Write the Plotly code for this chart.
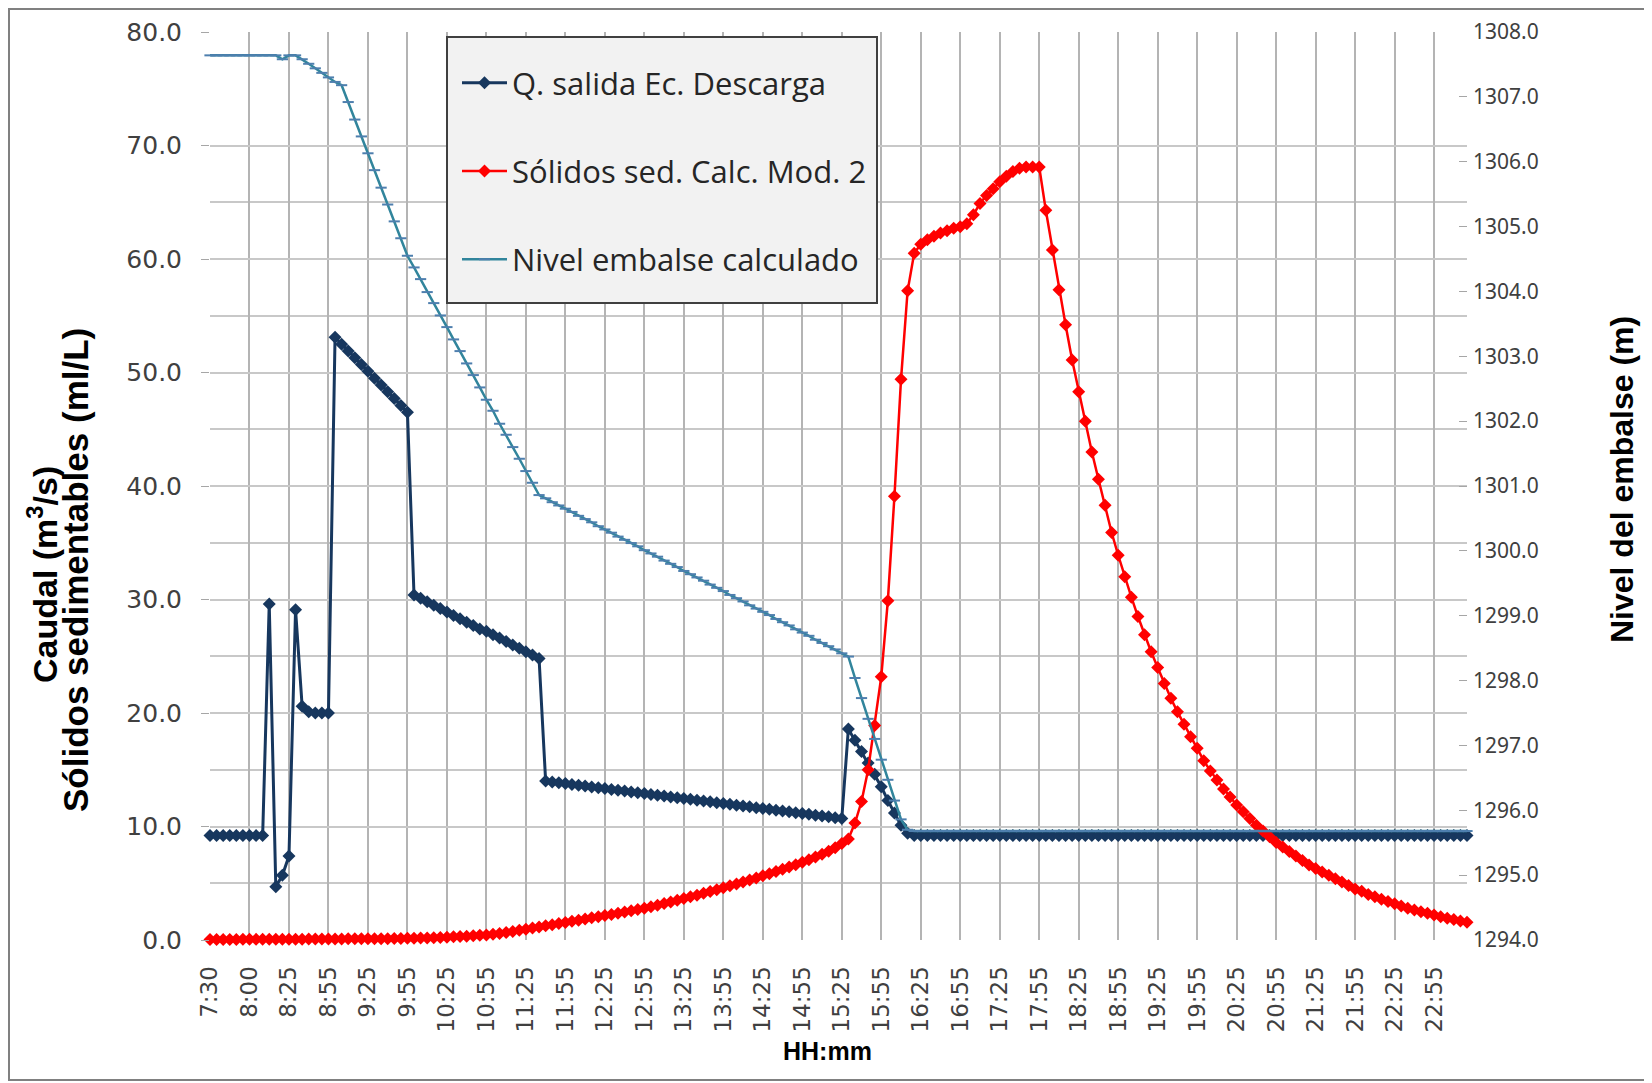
import plotly.graph_objects as go

# ---------------- data ----------------
tick_labels = ["7:30", "8:00", "8:25", "8:55", "9:25", "9:55", "10:25", "10:55",
               "11:25", "11:55", "12:25", "12:55", "13:25", "13:55", "14:25", "14:55",
               "15:25", "15:55", "16:25", "16:55", "17:25", "17:55", "18:25", "18:55",
               "19:25", "19:55", "20:25", "20:55", "21:25", "21:55", "22:25", "22:55"]
categories_per_label = 6

# Q. salida Ec. Descarga (m3/s)
q_salida = [
    9.2, 9.2, 9.2, 9.2, 9.2, 9.2, 9.2, 9.2, 9.2,
    29.6, 4.7, 5.7, 7.4, 29.1, 20.6, 20.1, 20.0, 20.0, 20.0,
    53.1, 52.5, 51.9, 51.3, 50.7, 50.1, 49.5, 48.9, 48.3, 47.7, 47.1, 46.5,
    30.4, 30.1, 29.8, 29.5, 29.2, 28.9, 28.6, 28.3, 28.0, 27.7,
    27.4, 27.2, 26.9, 26.6, 26.3, 26.0, 25.7, 25.4, 25.1, 24.8,
    14.00, 13.93, 13.85, 13.78, 13.71, 13.63, 13.56, 13.49, 13.41, 13.34,
    13.27, 13.19, 13.12, 13.05, 12.97, 12.90, 12.83, 12.75, 12.68, 12.61,
    12.53, 12.46, 12.39, 12.31, 12.24, 12.17, 12.09, 12.02, 11.95, 11.87,
    11.80, 11.73, 11.65, 11.58, 11.51, 11.43, 11.36, 11.29, 11.21, 11.14,
    11.07, 10.99, 10.92, 10.85, 10.77, 10.70,
    18.6, 17.6, 16.6, 15.6, 14.6, 13.5, 12.3, 11.2, 10.1, 9.4,
    9.2, 9.2, 9.2, 9.2, 9.2, 9.2, 9.2, 9.2, 9.2, 9.2,
    9.2, 9.2, 9.2, 9.2, 9.2, 9.2, 9.2, 9.2, 9.2, 9.2,
    9.2, 9.2, 9.2, 9.2, 9.2, 9.2, 9.2, 9.2, 9.2, 9.2,
    9.2, 9.2, 9.2, 9.2, 9.2, 9.2, 9.2, 9.2, 9.2, 9.2,
    9.2, 9.2, 9.2, 9.2, 9.2, 9.2, 9.2, 9.2, 9.2, 9.2,
    9.2, 9.2, 9.2, 9.2, 9.2, 9.2, 9.2, 9.2, 9.2, 9.2,
    9.2, 9.2, 9.2, 9.2, 9.2, 9.2, 9.2, 9.2, 9.2, 9.2,
    9.2, 9.2, 9.2, 9.2, 9.2, 9.2, 9.2, 9.2, 9.2, 9.2,
    9.2, 9.2, 9.2, 9.2, 9.2,
]

# Sólidos sed. Calc. Mod. 2 (ml/L)
solidos = [
    0.05, 0.05, 0.05, 0.05, 0.05, 0.06, 0.06, 0.06, 0.06, 0.06,
    0.07, 0.07, 0.07, 0.07, 0.07, 0.08, 0.08, 0.08, 0.09, 0.09,
    0.09, 0.10, 0.10, 0.10, 0.11, 0.11, 0.12, 0.12, 0.13, 0.14,
    0.15,
    0.16, 0.17, 0.18, 0.20, 0.22, 0.25, 0.28, 0.31, 0.34, 0.37,
    0.41, 0.45, 0.51, 0.58, 0.66, 0.75, 0.85, 0.95,
    1.05, 1.15, 1.25, 1.35, 1.45, 1.55, 1.65, 1.75, 1.85, 1.95,
    2.05, 2.15, 2.25, 2.36, 2.47, 2.58, 2.69, 2.80, 2.93, 3.07,
    3.21, 3.35, 3.50, 3.65, 3.80, 3.95, 4.11, 4.27, 4.43, 4.60,
    4.77, 4.94, 5.11, 5.29, 5.47, 5.65, 5.84, 6.03, 6.23, 6.43,
    6.64, 6.85, 7.08, 7.31, 7.56, 7.82, 8.12, 8.50,
    8.9, 10.3, 12.2, 15.0, 18.9, 23.2, 29.9, 39.1, 49.4, 57.2, 60.5,
    61.3, 61.7, 62.0, 62.3, 62.5, 62.7, 62.85, 63.1, 63.9, 64.9,
    65.6, 66.2, 66.8, 67.3, 67.7, 68.0, 68.1, 68.1, 68.1,
    64.3, 60.8, 57.3, 54.2, 51.1, 48.3, 45.7, 43.0, 40.6, 38.3,
    35.9, 33.9, 32.0, 30.2, 28.5, 26.9, 25.4, 24.0, 22.6, 21.3,
    20.1, 19.0, 17.9, 16.9,
    15.8, 14.9, 14.1, 13.3, 12.6, 11.9, 11.3, 10.7, 10.1, 9.6,
    9.1, 8.6, 8.2, 7.8, 7.4, 7.0, 6.6, 6.3, 6.0, 5.7,
    5.4, 5.1, 4.8, 4.5, 4.3, 4.0, 3.8, 3.6, 3.4, 3.2,
    3.0, 2.8, 2.65, 2.5, 2.35, 2.2, 2.05, 1.92, 1.8, 1.68,
    1.56,
]

# Nivel embalse calculado (m)
nivel = [
    1307.64, 1307.64, 1307.64, 1307.64, 1307.64, 1307.64, 1307.64, 1307.64,
    1307.64, 1307.64, 1307.64,
    1307.58, 1307.64, 1307.64,
    1307.58, 1307.51, 1307.44, 1307.37, 1307.30, 1307.23, 1307.18,
    1306.92, 1306.65, 1306.39, 1306.13, 1305.87, 1305.60, 1305.34, 1305.08,
    1304.82, 1304.55,
    1304.37, 1304.19, 1303.99, 1303.82, 1303.63, 1303.45, 1303.26, 1303.08,
    1302.89, 1302.71, 1302.52, 1302.33, 1302.16, 1301.96, 1301.79, 1301.60,
    1301.42, 1301.23, 1301.05, 1300.86,
    1300.81, 1300.75, 1300.70, 1300.65, 1300.60, 1300.54, 1300.49, 1300.44,
    1300.38, 1300.33, 1300.28, 1300.22, 1300.17, 1300.12, 1300.07, 1300.01,
    1299.96, 1299.91, 1299.85, 1299.80, 1299.75, 1299.69, 1299.64, 1299.59,
    1299.54, 1299.48, 1299.43, 1299.38, 1299.32, 1299.27, 1299.22, 1299.16,
    1299.11, 1299.06, 1299.01, 1298.95, 1298.90, 1298.85, 1298.79, 1298.74,
    1298.69, 1298.63, 1298.58, 1298.53, 1298.48, 1298.42, 1298.37,
    1298.04, 1297.73, 1297.41, 1297.10, 1296.78, 1296.47, 1296.15, 1295.86,
    1295.70,
    1295.68, 1295.68, 1295.68, 1295.68, 1295.68, 1295.68, 1295.68, 1295.68, 1295.68, 1295.68,
    1295.68, 1295.68, 1295.68, 1295.68, 1295.68, 1295.68, 1295.68, 1295.68, 1295.68, 1295.68,
    1295.68, 1295.68, 1295.68, 1295.68, 1295.68, 1295.68, 1295.68, 1295.68, 1295.68, 1295.68,
    1295.68, 1295.68, 1295.68, 1295.68, 1295.68, 1295.68, 1295.68, 1295.68, 1295.68, 1295.68,
    1295.68, 1295.68, 1295.68, 1295.68, 1295.68, 1295.68, 1295.68, 1295.68, 1295.68, 1295.68,
    1295.68, 1295.68, 1295.68, 1295.68, 1295.68, 1295.68, 1295.68, 1295.68, 1295.68, 1295.68,
    1295.68, 1295.68, 1295.68, 1295.68, 1295.68, 1295.68, 1295.68, 1295.68, 1295.68, 1295.68,
    1295.68, 1295.68, 1295.68, 1295.68, 1295.68, 1295.68, 1295.68, 1295.68, 1295.68, 1295.68,
    1295.68, 1295.68, 1295.68, 1295.68, 1295.68,
]

left_ticks = [0, 10, 20, 30, 40, 50, 60, 70, 80]
left_minor_grid = [5, 15, 25, 35, 45, 55, 65]

# ---------------- geometry ----------------
OFF = 8                       # page body margin of the html page
W, H = 1652 - OFF, 1083 - OFF
ML, MR, MT, MB = 202, 185, 24, 143
PW, PH = W - ML - MR, H - MT - MB


def xp(page_x):
    return (page_x - OFF - ML) / PW


def yp(page_y):
    return (H - MB - (page_y - OFF)) / PH


NAVY = "#17375E"
RED = "#FF0000"
TEAL = "#31859C"

x_q = list(range(len(q_salida)))
x_s = list(range(len(solidos)))
x_n = list(range(len(nivel)))

fig = go.Figure()
fig.add_trace(go.Scatter(
    x=x_q, y=q_salida, name="Q. salida Ec. Descarga", mode="lines+markers",
    line=dict(color=NAVY, width=3),
    marker=dict(symbol="diamond", size=10, color=NAVY),
    legendrank=1, legendgroup="a", cliponaxis=False))
fig.add_trace(go.Scatter(
    x=x_n, y=nivel, name="Nivel embalse calculado", mode="lines+markers",
    line=dict(color=TEAL, width=2.5),
    marker=dict(symbol="line-ew", size=8, color=TEAL,
                line=dict(color="#4E7FAE", width=2)),
    yaxis="y2", legendrank=3, legendgroup="c", cliponaxis=False))
fig.add_trace(go.Scatter(
    x=x_s, y=solidos, name="Sólidos sed. Calc. Mod. 2", mode="lines+markers",
    line=dict(color=RED, width=2.5),
    marker=dict(symbol="diamond", size=10, color=RED),
    legendrank=2, legendgroup="b", cliponaxis=False))

tickvals_x = [k * categories_per_label for k in range(len(tick_labels))]

fig.update_layout(
    width=W, height=H,
    margin=dict(l=ML, r=MR, t=MT, b=MB, autoexpand=False),
    paper_bgcolor="white", plot_bgcolor="white",
    showlegend=True,
    legend=dict(
        x=xp(457), y=yp(56), xanchor="left", yanchor="top",
        bgcolor="rgba(0,0,0,0)", borderwidth=0,
        font=dict(family="Open Sans", size=31, color="#262626"),
        traceorder="grouped", tracegroupgap=45, itemwidth=45,
    ),
    xaxis=dict(
        range=[0, len(q_salida) - 1],
        tickmode="array", tickvals=tickvals_x, ticktext=tick_labels,
        tickangle=-90, ticks="outside", ticklen=16, tickcolor="rgba(0,0,0,0)",
        showgrid=True, gridcolor="#B4B4B4", gridwidth=1.5,
        zeroline=False, showline=False,
        tickfont=dict(family="DejaVu Sans", size=23, color="#404040"),
    ),
    yaxis=dict(
        range=[0, 80], tickmode="array", tickvals=left_ticks, tickformat=".1f",
        ticks="outside", ticklen=8, tickcolor="#A6A6A6",
        showgrid=True, gridcolor="#C8C8C8", gridwidth=1.5, zeroline=False, showline=False,
        minor=dict(tickmode="array", tickvals=left_minor_grid, showgrid=True,
                   gridcolor="#C8C8C8", gridwidth=1.5, ticks=""),
        tickfont=dict(family="DejaVu Sans", size=25, color="#404040"),
        ticklabelstandoff=14,
    ),
    yaxis2=dict(
        overlaying="y", side="right", range=[1294, 1308], dtick=1, tick0=1294,
        tickformat=".1f", ticks="inside", ticklen=8, tickcolor="#A6A6A6",
        showgrid=False, zeroline=False, showline=False,
        tickfont=dict(family="Noto Sans", size=21, color="#404040"),
        ticklabelstandoff=5,
    ),
    annotations=[
        dict(text="<b>Caudal (m<sup>3</sup>/s)</b>", xref="paper", yref="paper",
             x=xp(42), y=yp(575), xanchor="center", yanchor="middle",
             textangle=-90, showarrow=False,
             font=dict(family="Liberation Sans", size=34, color="black")),
        dict(text="<b>Sólidos sedimentables (ml/L)</b>", xref="paper", yref="paper",
             x=xp(75), y=yp(570), xanchor="center", yanchor="middle",
             textangle=-90, showarrow=False,
             font=dict(family="Liberation Sans", size=35, color="black")),
        dict(text="<b>Nivel del embalse (m)</b>", xref="paper", yref="paper",
             x=xp(1622), y=yp(480), xanchor="center", yanchor="middle",
             textangle=-90, showarrow=False,
             font=dict(family="Liberation Sans", size=32, color="black")),
        dict(text="<b>HH:mm</b>", xref="paper", yref="paper",
             x=xp(827), y=yp(1051), xanchor="center", yanchor="middle",
             showarrow=False,
             font=dict(family="Liberation Sans", size=25, color="black")),
    ],
    shapes=[
        dict(type="rect", xref="paper", yref="paper",
             x0=xp(9), x1=xp(1650), y0=yp(1080), y1=yp(9),
             line=dict(color="#808080", width=2), fillcolor="rgba(0,0,0,0)", layer="below"),
        dict(type="rect", xref="paper", yref="paper",
             x0=xp(447), x1=xp(877), y0=yp(303), y1=yp(37),
             line=dict(color="#404040", width=2), fillcolor="#F2F2F2", layer="above"),
    ],
)

fig.write_html("out.html")
